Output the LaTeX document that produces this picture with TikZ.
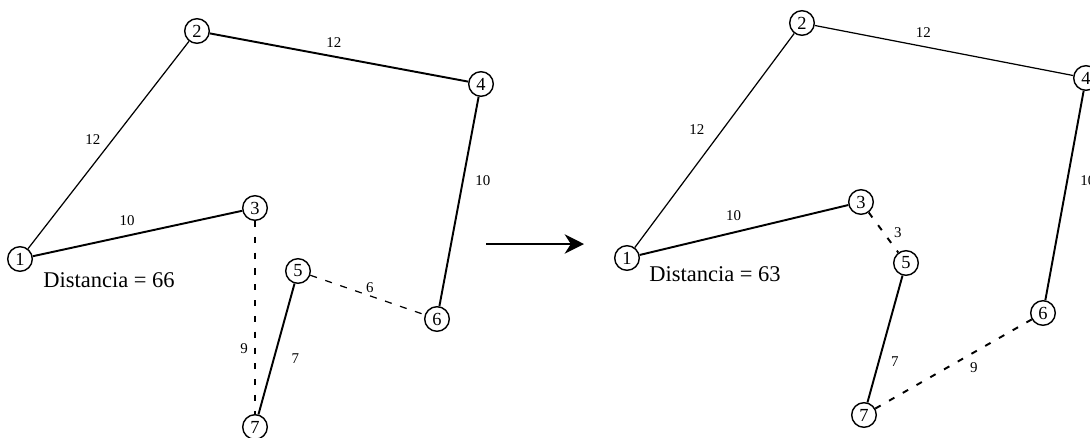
\documentclass[tikz,border=0pt]{standalone}
\usepackage{fontspec}
\setmainfont{Liberation Serif}
\usetikzlibrary{arrows.meta}

\tikzset{
  vert/.style={circle,draw,line width=0.8pt,minimum size=14pt,inner sep=0pt,
    font=\fontsize{10.5}{11}\selectfont},
  lbl/.style={font=\fontsize{8.5}{9}\selectfont,inner sep=1.5pt},
  thinedge/.style={line width=0.7pt},
  thickedge/.style={line width=1.1pt},
  dashedge/.style={line width=1.1pt,dash pattern=on 3.5pt off 5.5pt},
  dist/.style={anchor=base west,inner sep=0pt,font=\fontsize{12.8}{14}\selectfont}
}

\begin{document}
\begin{tikzpicture}[x=0.02cm,y=-0.02cm]
  \useasboundingbox (0,0) rectangle (1090,437);

  % before
  \node[vert] (l1) at (20,259) {1};
  \node[vert] (l2) at (197,31) {2};
  \node[vert] (l3) at (255,208) {3};
  \node[vert] (l4) at (481,84) {4};
  \node[vert] (l5) at (298,271) {5};
  \node[vert] (l6) at (437,319) {6};
  \node[vert] (l7) at (255,427) {7};
  \node[dist] (ld) at (43,287) {Distancia = 66};

  \draw[thinedge] (l1) -- (l2) node[lbl,pos=.48,above left=1pt] {12};
  \draw[thickedge] (l2) -- (l4) node[lbl,pos=.48,above=3pt] {12};
  \draw[thickedge] (l1) -- (l3) node[lbl,pos=.45,above=4pt] {10};
  \draw[thickedge] (l4) -- (l6) node[lbl,pos=.40,right=5pt] {10};
  \draw[dashedge] (l3) -- (l7) node[lbl,pos=.66,left=2pt] {9};
  \draw[thickedge] (l5) -- (l7) node[lbl,pos=.57,right=8pt] {7};
  \draw[thinedge,dash pattern=on 4pt off 5pt] (l5) -- (l6) node[lbl,pos=.52,above=0pt] {6};

  % arrow
  \coordinate (arrS) at (486,244);
  \coordinate (arrE) at (584,244);
  \draw[line width=1.1pt,-{Stealth[length=11pt,width=11pt,inset=3.5pt]}] (arrS) -- (arrE);

  % after
  \node[vert] (r1) at (627,258) {1};
  \node[vert] (r2) at (802,23) {2};
  \node[vert] (r3) at (861,202) {3};
  \node[vert] (r4) at (1086,78) {4};
  \node[vert] (r5) at (906,263) {5};
  \node[vert] (r6) at (1043,313) {6};
  \node[vert] (r7) at (864,415) {7};
  \node[dist] (rd) at (649,281) {Distancia = 63};

  \draw[thinedge] (r1) -- (r2) node[lbl,pos=.49,above left=3pt] {12};
  \draw[thinedge] (r2) -- (r4) node[lbl,pos=.42,above=3.2pt] {12};
  \draw[thickedge] (r1) -- (r3) node[lbl,pos=.45,above=4.5pt] {10};
  \draw[thickedge] (r4) -- (r6) node[lbl,pos=.43,right=5.5pt] {10};
  \draw[dashedge] (r3) -- (r5) node[lbl,pos=.5,right=4pt] {3};
  \draw[thickedge] (r5) -- (r7) node[lbl,pos=.68,right=5pt] {7};
  \draw[dashedge] (r7) -- (r6) node[lbl,pos=.63,below=4pt] {9};
\end{tikzpicture}
\end{document}
